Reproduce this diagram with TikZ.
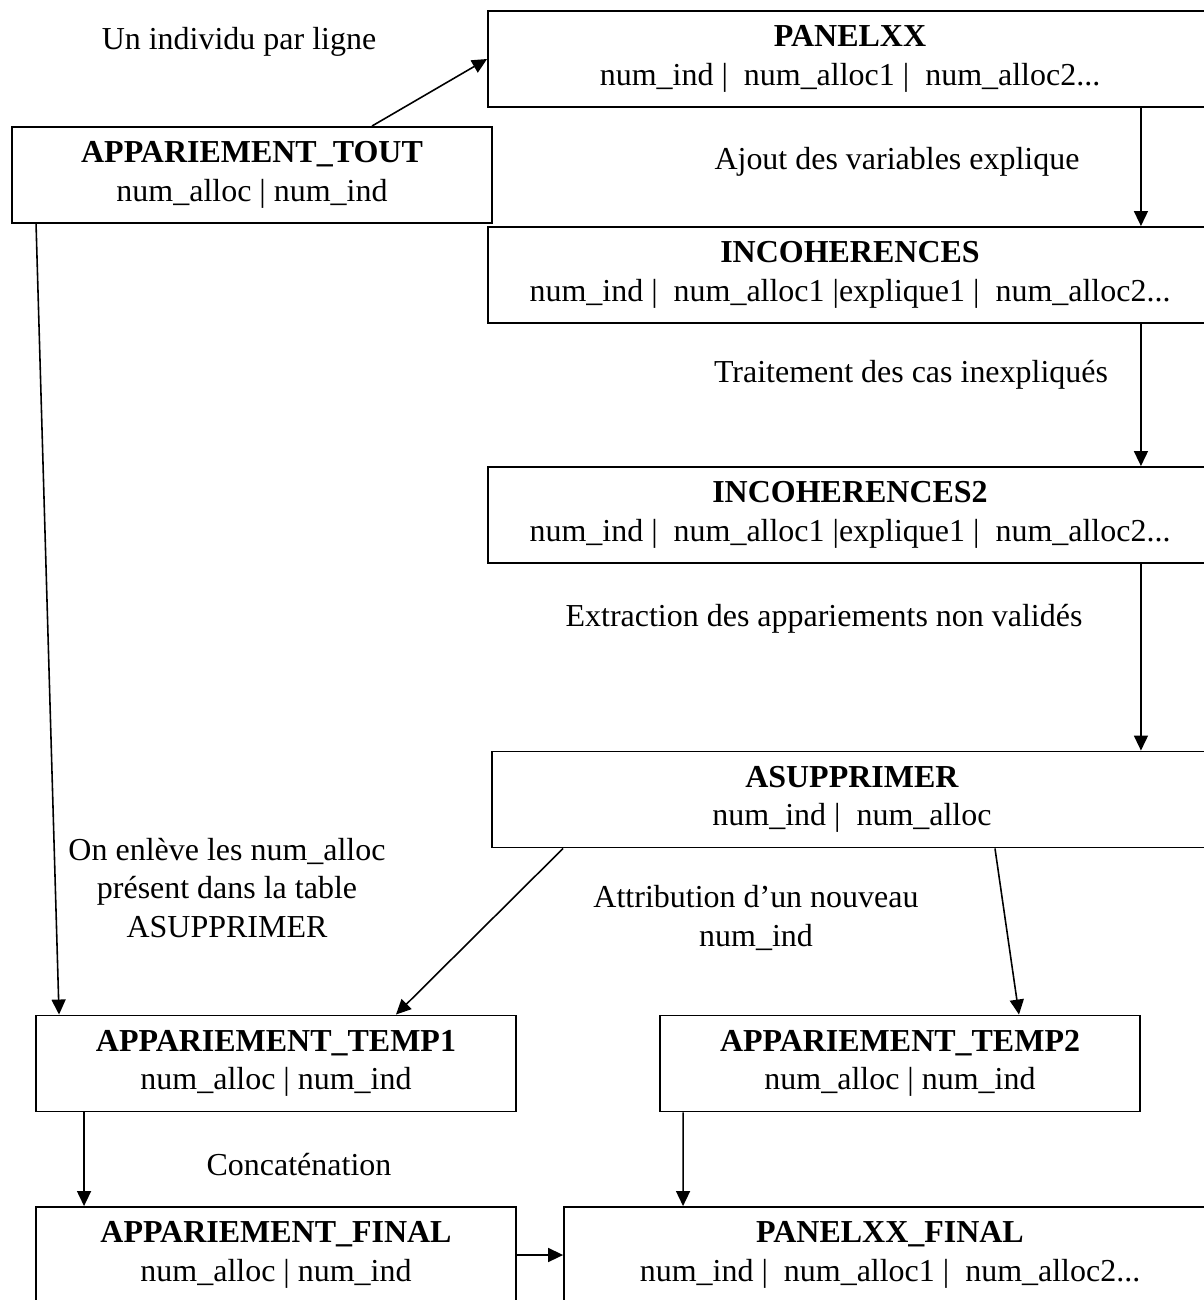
\documentclass[tikz,border=0pt]{standalone}
\usepackage{fontspec}
\setmainfont{Liberation Serif}
\usetikzlibrary{arrows.meta}

\tikzset{
  tbl/.style={draw,line width=1.1pt,inner sep=0pt,align=center,minimum height=1.92cm},
  lbl/.style={align=center,inner sep=0pt},
}

\begin{document}
\begin{tikzpicture}[x=0.02cm,y=-0.02cm,font=\fontsize{18.2}{21.8}\selectfont,
  >={Triangle[length=0.3cm,width=0.28cm]},line width=0.9pt]
\useasboundingbox (0,0) rectangle (1203,1300);

% tables
\path
(252,175) node[tbl,minimum width=9.6cm](tout) {\textbf{APPARIEMENT\_TOUT}\\num\_alloc | num\_ind}
(850,59) node[tbl,minimum width=14.48cm](panel) {\textbf{PANELXX}\\num\_ind |~ num\_alloc1 |~ num\_alloc2...}
(850,275) node[tbl,minimum width=14.48cm](inc) {\textbf{INCOHERENCES}\\num\_ind |~ num\_alloc1 |explique1 |~ num\_alloc2...}
(850,515) node[tbl,minimum width=14.48cm](inc2) {\textbf{INCOHERENCES2}\\num\_ind |~ num\_alloc1 |explique1 |~ num\_alloc2...}
(852,799.5) node[tbl,minimum width=14.4cm](asup) {\textbf{ASUPPRIMER}\\num\_ind |~ num\_alloc}
(276,1063.5) node[tbl,minimum width=9.6cm](temp1) {\textbf{APPARIEMENT\_TEMP1}\\num\_alloc | num\_ind}
(900,1063.5) node[tbl,minimum width=9.6cm](temp2) {\textbf{APPARIEMENT\_TEMP2}\\num\_alloc | num\_ind}
(276,1255) node[tbl,minimum width=9.6cm](final) {\textbf{APPARIEMENT\_FINAL}\\num\_alloc | num\_ind}
(890,1255) node[tbl,minimum width=13.04cm](pfinal) {\textbf{PANELXX\_FINAL}\\num\_ind |~ num\_alloc1 |~ num\_alloc2...};

% steps
\path
(239,42) node[lbl](l1) {Un individu par ligne}
(897,162) node[lbl](l2) {Ajout des variables explique}
(911,375) node[lbl](l3) {Traitement des cas inexpliqués}
(824,619) node[lbl](l4) {Extraction des appariements non validés}
(227,888) node[lbl](l5) {On enlève les num\_alloc\\présent dans la table\\ASUPPRIMER}
(756,918) node[lbl](l6) {Attribution d’un nouveau\\num\_ind}
(299,1165) node[lbl](l7) {Concaténation};

\draw[->] ([xshift=2.4cm]tout.north) -- (panel.west);
\draw[->] ([xshift=5.82cm]panel.south) -- ([xshift=5.82cm]inc.north);
\draw[->] ([xshift=5.82cm]inc.south) -- ([xshift=5.82cm]inc2.north);
\draw[->] ([xshift=5.82cm]inc2.south) -- ([xshift=5.78cm]asup.north);
\draw[->] ([xshift=-4.32cm]tout.south) -- ([xshift=-4.34cm]temp1.north);
\draw[->] ([xshift=-5.78cm]asup.south) -- ([xshift=2.4cm]temp1.north);
\draw[->] ([xshift=2.86cm]asup.south) -- ([xshift=2.38cm]temp2.north);
\draw[->] ([xshift=-3.84cm]temp1.south) -- ([xshift=-3.84cm]final.north);
\draw[->] ([xshift=-4.34cm]temp2.south) -- ([xshift=-4.14cm]pfinal.north);
\draw[->] (final.east) -- (pfinal.west);
\end{tikzpicture}
\end{document}
